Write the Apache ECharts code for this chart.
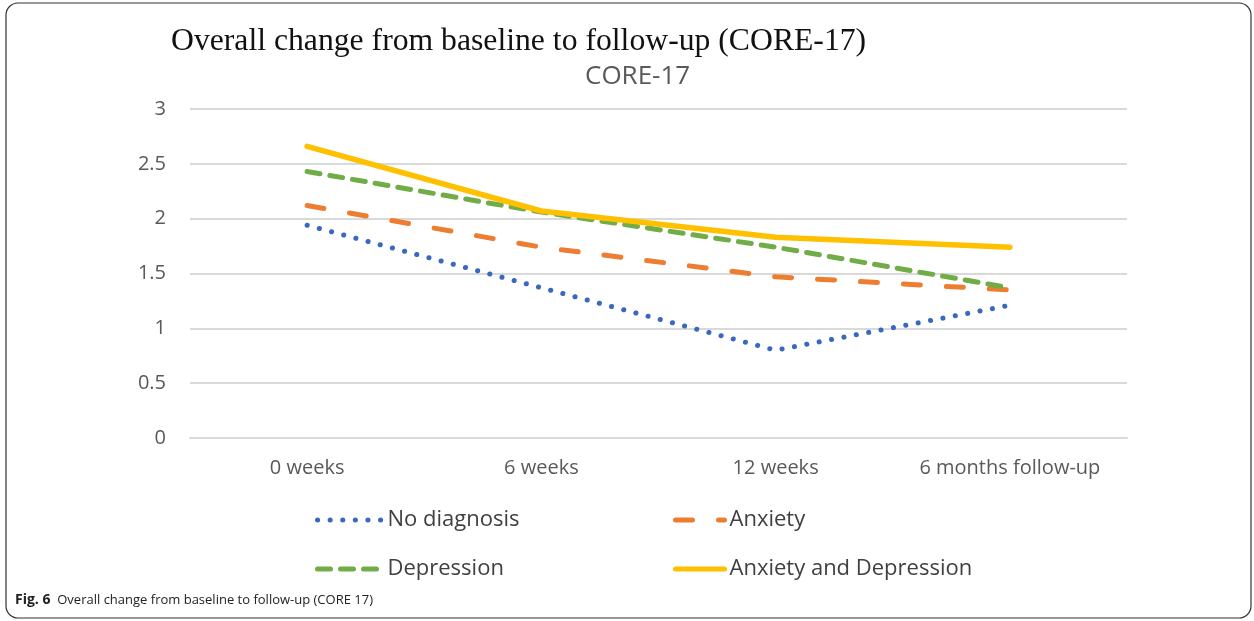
<!DOCTYPE html>
<html>
<head>
<meta charset="utf-8">
<script src="https://cdn.jsdelivr.net/npm/echarts@6/dist/echarts.min.js"></script>
<style>
html, body { margin: 0; padding: 0; background: #fff; }
#chart { width: 1254px; height: 621px; }
</style>
</head>
<body>
<div id="chart"></div>
<script>
// data
const categories = ['0 weeks', '6 weeks', '12 weeks', '6 months follow-up']
const noDiagnosis = [1.94, 1.37, 0.80, 1.21]
const anxiety = [2.12, 1.74, 1.47, 1.35]
const depression = [2.43, 2.06, 1.74, 1.37]
const anxDep = [2.66, 2.07, 1.83, 1.74]
const yTicks = [0, 0.5, 1, 1.5, 2, 2.5, 3]

const seriesNames = ['No diagnosis', 'Anxiety', 'Depression', 'Anxiety and Depression']
const colors = ['#3A68C0', '#ED7D31', '#70AD47', '#FFC000']
const dashes = [[0.1, 12.5], [17, 26], [13, 10], 'solid']

const el = document.getElementById('chart')
const ec = echarts.init(el)

const labelFont = '"Open Sans", sans-serif'

// one legend per entry so each can sit where the original has it
function legendAt (i, left, top, w) {
    return {
        data: [seriesNames[i]],
        left, top,
        itemWidth: w,
        itemHeight: 14,
        itemStyle: { opacity: 0 },
        lineStyle: { width: 5, type: dashes[i], cap: 'round', color: colors[i] },
        textStyle: { color: '#404040', fontSize: 22, fontFamily: labelFont }
    }
}

const option = {
    animation: false,
    backgroundColor: '#fff',
    title: [
        {
            text: 'Overall change from baseline to follow-up (CORE-17)',
            left: 166, top: 21,
            textStyle: { fontFamily: '"Liberation Serif", serif', fontWeight: 'normal', fontSize: 31.7, color: '#111' }
        },
        {
            text: 'CORE-17',
            left: 580, top: 59,
            textStyle: { fontFamily: labelFont, fontWeight: 'normal', fontSize: 26, color: '#595959' }
        },
        {
            text: '{b|Fig. 6}  Overall change from baseline to follow-up (CORE 17)',
            left: 10, top: 588,
            textStyle: {
                fontFamily: labelFont, fontWeight: 'normal', fontSize: 13, color: '#222',
                rich: { b: { fontWeight: 'bold', fontSize: 14, fontFamily: labelFont, color: '#222' } }
            }
        }
    ],
    legend: [
        legendAt(0, 310, 504, 65),
        legendAt(1, 668, 504, 49),
        legendAt(2, 310, 553, 65),
        legendAt(3, 668, 553, 49)
    ],
    grid: { left: 190, right: 127, top: 109, bottom: 183 },
    xAxis: {
        type: 'category',
        data: categories,
        boundaryGap: true,
        axisLine: { lineStyle: { color: '#d9d9d9', width: 2 } },
        axisTick: { show: false },
        axisLabel: { interval: 0, color: '#595959', fontSize: 20, fontFamily: labelFont, margin: 20 }
    },
    yAxis: {
        type: 'value',
        min: yTicks[0],
        max: yTicks[yTicks.length - 1],
        interval: 0.5,
        axisLine: { show: false },
        axisTick: { show: false },
        axisLabel: { color: '#595959', fontSize: 20, fontFamily: labelFont, margin: 24 },
        splitLine: { lineStyle: { color: '#d9d9d9', width: 2 } }
    },
    series: seriesNames.map((name, i) => ({
        name,
        type: 'line',
        data: [noDiagnosis, anxiety, depression, anxDep][i],
        symbol: 'none',
        color: colors[i],
        lineStyle: { width: i === 3 ? 5.5 : 5, type: dashes[i], cap: 'round', color: colors[i] }
    })),
    graphic: [
        {
            type: 'rect',
            shape: { x: 6, y: 3, width: 1245, height: 615, r: 12 },
            style: { fill: 'none', stroke: '#333', lineWidth: 1.2 },
            silent: true
        }
    ]
}

ec.setOption(option)
</script>
</body>
</html>
